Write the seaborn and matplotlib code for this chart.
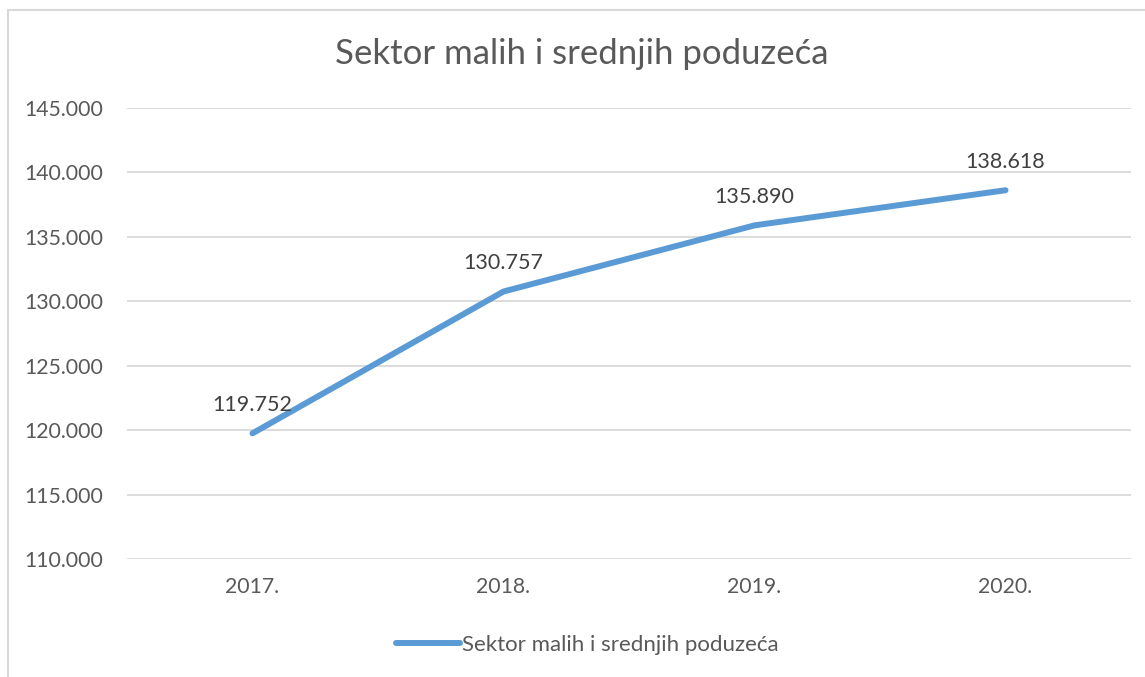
import pandas as pd
import seaborn as sns
import matplotlib.pyplot as plt
from matplotlib.patches import Rectangle
from matplotlib.ticker import FuncFormatter

years = ["2017.", "2018.", "2019.", "2020."]
values = [119752, 130757, 135890, 138618]
series_name = "Sektor malih i srednjih poduzeća"

df = pd.DataFrame({"year": years, "value": values, "series": series_name})

sns.set_style("white")
plt.rcParams["font.family"] = ["Lato", "DejaVu Sans"]

text_col = "#595959"
line_col = "#5B9BD5"

fig = plt.figure(figsize=(11.45, 6.77), dpi=100)
ax = fig.add_axes([0.1109, 0.1743, 0.8769, 0.6662])

sns.lineplot(data=df, x="year", y="value", hue="series", palette=[line_col],
             linewidth=4.3, sort=False, ax=ax, solid_capstyle="round")

ax.set_xlim(-0.5, 3.5)
ax.set_ylim(110000, 145000)
ax.set_yticks(range(110000, 145001, 5000))
ax.yaxis.set_major_formatter(FuncFormatter(lambda v, p: f"{int(v):,}".replace(",", ".")))
ax.grid(axis="y", color="#D9D9D9", linewidth=1.3)
ax.set_axisbelow(True)
for s in ax.spines.values():
    s.set_visible(False)
ax.tick_params(axis="both", length=0, labelsize=15.3, labelcolor=text_col)
ax.tick_params(axis="y", pad=17)
ax.tick_params(axis="x", pad=13)
ax.set_xlabel("")
ax.set_ylabel("")

for i, v in enumerate(values):
    ax.annotate(f"{v:,}".replace(",", "."), (i, v), xytext=(0, 13), textcoords="offset points",
                ha="center", va="bottom", fontsize=15.5, color="#404040")

fig.text(0.508, 0.92, series_name, ha="center", va="center", fontsize=25, color=text_col)

leg = ax.legend(loc="center", bbox_to_anchor=(0.513, 0.048), bbox_transform=fig.transFigure,
                frameon=False, fontsize=16, handlelength=2.9, handletextpad=0.1)
for t in leg.get_texts():
    t.set_color(text_col)

# chart border (top and left visible in the crop)
fig.add_artist(Rectangle((8 / 1145, -0.1), 1.2, 1 - 10 / 677 + 0.1, transform=fig.transFigure,
                         fill=False, edgecolor="#D9D9D9", linewidth=1.5))

fig.savefig("out.png", dpi=100)
